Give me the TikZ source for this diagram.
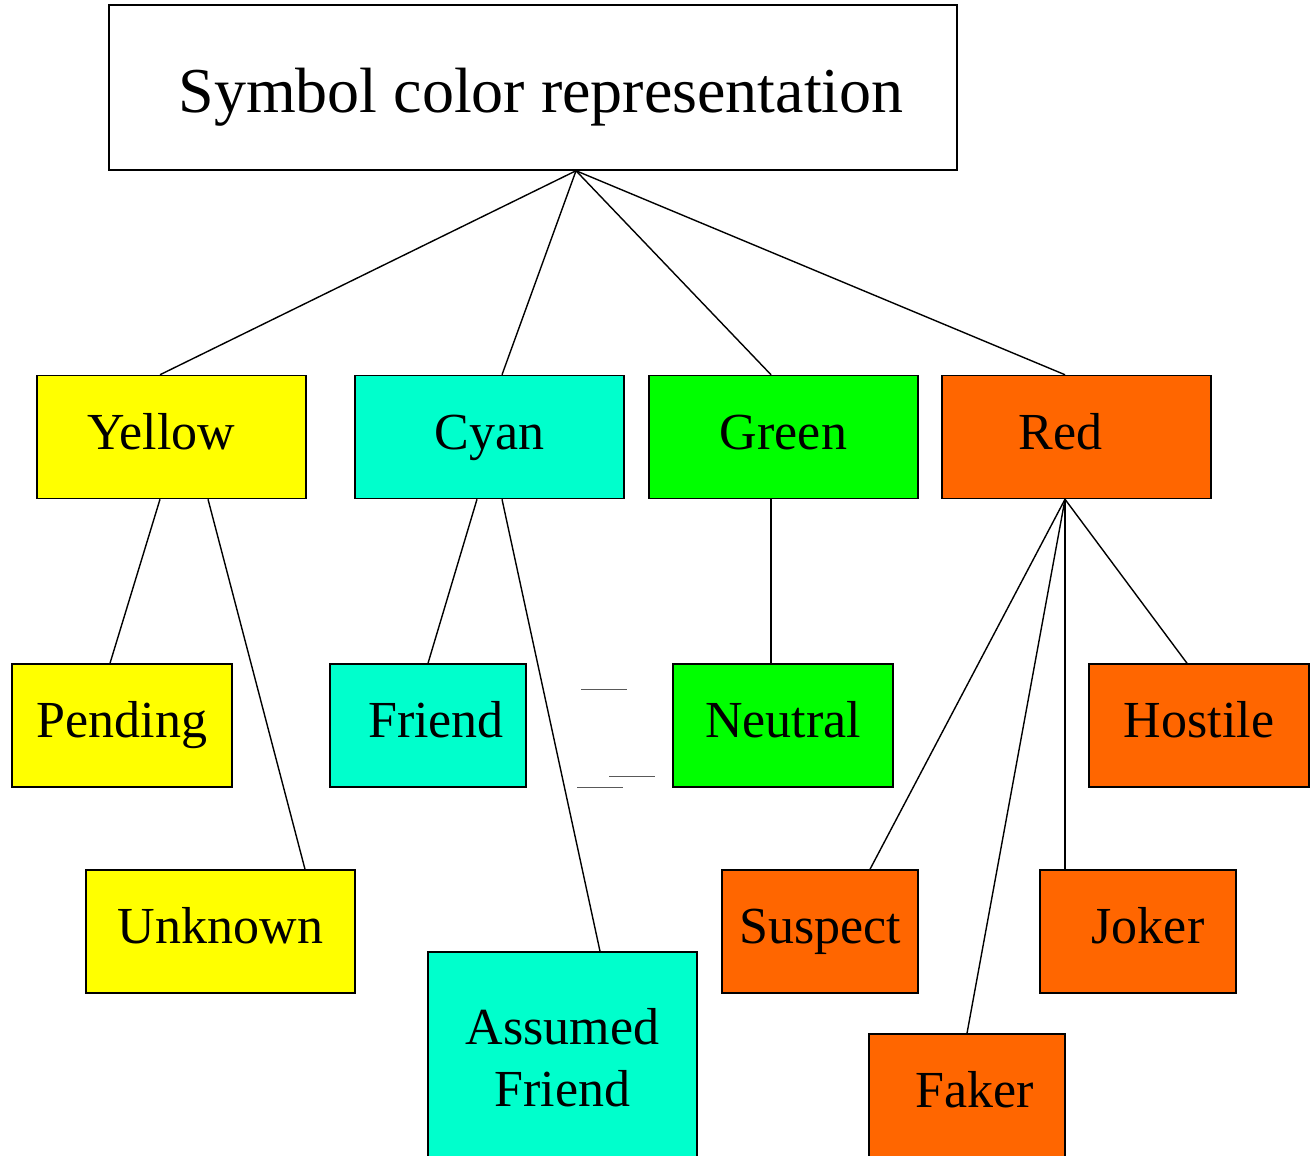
\documentclass[tikz,border=0pt]{standalone}
\usepackage{fontspec}
\setmainfont{Liberation Serif}
\usepackage{xcolor}
\definecolor{colorYellow}{HTML}{FFFF00}
\definecolor{colorCyan}{HTML}{00FFCC}
\definecolor{colorGreen}{HTML}{00FF00}
\definecolor{colorRed}{HTML}{FF6600}
\usetikzlibrary{calc, positioning}
\tikzset{
  box/.style={draw, line width=0.75pt, rectangle, inner sep=0pt, align=center,
    text height=18pt, text depth=6pt, font=\fontsize{26}{31}\selectfont},
  wide/.style={box, minimum width=134.5pt, minimum height=61.5pt},
  mid/.style={box, minimum width=110pt, minimum height=61.5pt},
  narrow/.style={box, minimum width=98pt, minimum height=61.5pt},
  link/.style={line width=0.7pt}
}

\begin{document}
\begin{tikzpicture}[x=0.5pt, y=-0.5pt]
\clip (0,0) rectangle (1315,1155);
\fill[white] (0,0) rectangle (1315,1155);
% root
\node[box, minimum width=424pt, minimum height=82.5pt, text height=32pt, text depth=7pt, font=\fontsize{32}{38}\selectfont] (root) at (533,87.5) {\hspace*{8pt}Symbol color representation};
% colours
\node[wide, fill=colorYellow] (yellow) at (171.5,437) {Yellow\hspace*{10pt}};
\node[wide, fill=colorCyan] (cyan) at (489.5,437) {Cyan};
\node[wide, fill=colorGreen] (green) at (783.5,437) {Green};
\node[wide, fill=colorRed] (red) at (1076.5,437) {Red\hspace*{16pt}};
% symbols
\node[mid, fill=colorYellow] (pending) at (122,725.5) {Pending};
\node[wide, fill=colorYellow] (unknown) at (220.5,931.5) {Unknown};
\node[narrow, fill=colorCyan] (friend) at (428,725.5) {\hspace*{8pt}Friend};
\node[wide, fill=colorCyan, minimum height=106pt, text height=, text depth=] (assumed) at (562.5,1058) {Assumed\\Friend};
\node[mid, fill=colorGreen] (neutral) at (783,725.5) {Neutral};
\node[narrow, fill=colorRed] (suspect) at (820,931.5) {Suspect};
\node[narrow, fill=colorRed] (faker) at (967,1095.5) {\hspace*{8pt}Faker};
\node[narrow, fill=colorRed] (joker) at (1138,931.5) {\hspace*{10pt}Joker};
\node[mid, fill=colorRed] (hostile) at (1199,725.5) {Hostile};
% links
\draw[link] ($(root.south)+(43,0)$) -- ($(yellow.north)+(-11.5,0)$);
\draw[link] ($(root.south)+(43,0)$) -- ($(cyan.north)+(12.5,0)$);
\draw[link] ($(root.south)+(43,0)$) -- ($(green.north)+(-12.5,0)$);
\draw[link] ($(root.south)+(43,0)$) -- ($(red.north)+(-11.5,0)$);
\draw[link] ($(yellow.south)+(-11.5,0)$) -- ($(pending.north)+(-12,0)$);
\draw[link] ($(yellow.south)+(36.5,0)$) -- ($(unknown.north)+(84.5,0)$);
\draw[link] ($(cyan.south)+(-12.5,0)$) -- (friend.north);
\draw[link] ($(cyan.south)+(12.5,0)$) -- ($(assumed.north)+(37.5,0)$);
\draw[link] ($(green.south)+(-12.5,0)$) -- ($(neutral.north)+(-12,0)$);
\draw[link] ($(red.south)+(-11.5,0)$) -- ($(suspect.north)+(50,0)$);
\draw[link] ($(red.south)+(-11.5,0)$) -- (faker.north);
\draw[link] ($(red.south)+(-11.5,0)$) -- ($(joker.north)+(-73,0)$);
\draw[link] ($(red.south)+(-11.5,0)$) -- ($(hostile.north)+(-12,0)$);
% stray marks
\draw[gray!70!black, line width=0.5pt] (581,689) -- (627,689);
\draw[gray!70!black, line width=0.5pt] (609,776) -- (655,776);
\draw[gray!70!black, line width=0.5pt] (577,787) -- (623,787);
\end{tikzpicture}
\end{document}
